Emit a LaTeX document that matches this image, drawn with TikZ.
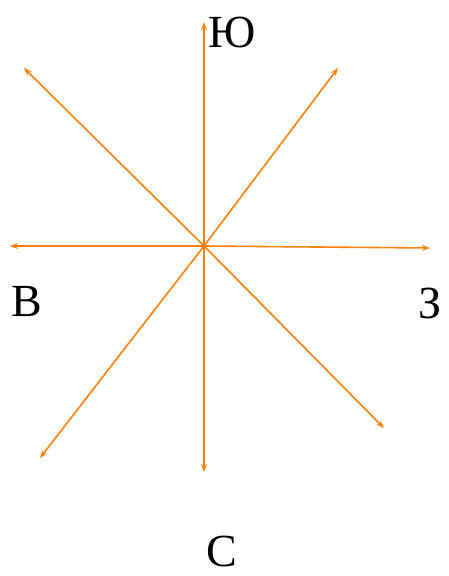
\documentclass[tikz,border=0pt]{standalone}
\usepackage{fontspec}
\setmainfont{Liberation Serif}
\usetikzlibrary{arrows.meta}
\definecolor{rayorange}{RGB}{252,128,10}
\begin{document}
\begin{tikzpicture}[x=1pt, y=-1pt,
    ray/.style={draw=rayorange, line width=1.6pt, -{Stealth[length=8pt, width=6pt]}},
    side/.style={font=\fontsize{46}{46}\selectfont, anchor=base, inner sep=0pt}]
    \useasboundingbox (0,0) rectangle (448,576);
    \coordinate (c) at (204,246);
    \coordinate (n) at (204,22);
    \coordinate (s) at (204,472);
    \coordinate (w) at (10,246);
    \coordinate (e) at (430,248);
    \coordinate (nw) at (24,68);
    \coordinate (ne) at (338,68);
    \coordinate (sw) at (40,458);
    \coordinate (se) at (384,428);
    \foreach \d in {n, s, w, e, nw, ne, sw, se}
        \draw[ray] (c) -- (\d);
    \node[side] (yu) at (232,47) {Ю};
    \node[side] (vv) at (27,316) {В};
    \node[side] (zz) at (430,318) {З};
    \node[side] (ss) at (222,566) {С};
\end{tikzpicture}
\end{document}
